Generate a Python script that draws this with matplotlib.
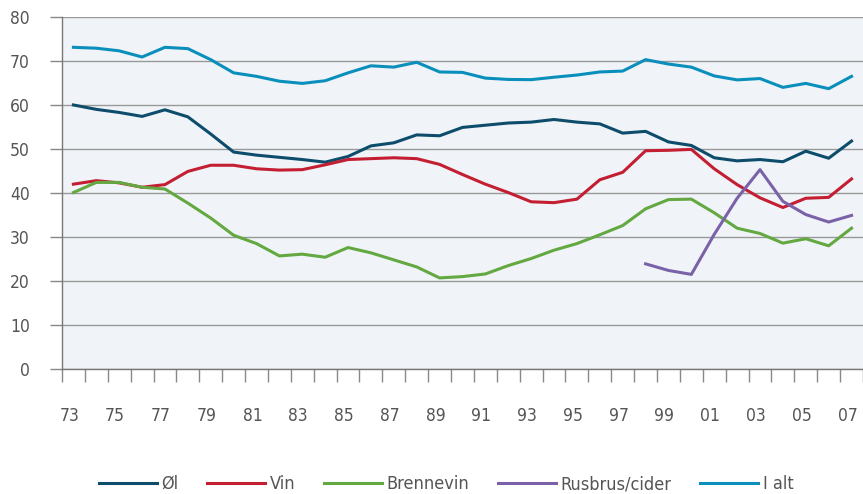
import matplotlib

matplotlib.use("Agg", force=True)
import matplotlib.pyplot as plt
import matplotlib.transforms as mtransforms
import numpy as np

years = list(range(1973, 2008))

ol = [60.0, 59.0, 58.3, 57.4, 58.9, 57.3, 53.4, 49.3, 48.6, 48.1, 47.6,
      47.0, 48.3, 50.7, 51.4, 53.2, 53.0, 54.9, 55.4, 55.9, 56.1, 56.7, 56.1,
      55.7, 53.6, 54.0, 51.6, 50.8, 48.0, 47.3, 47.6, 47.1, 49.5, 47.9, 51.8]
vin = [42.0, 42.8, 42.3, 41.3, 41.9, 44.9, 46.3, 46.3, 45.5, 45.2, 45.3,
       46.4, 47.6, 47.8, 48.0, 47.8, 46.5, 44.2, 42.0, 40.1, 38.0, 37.8, 38.6,
       43.0, 44.7, 49.6, 49.7, 49.9, 45.5, 41.9, 38.9, 36.7, 38.8, 39.0, 43.2]
brennevin = [40.1, 42.4, 42.4, 41.3, 40.9, 37.7, 34.3, 30.4, 28.5, 25.7, 26.1,
             25.4, 27.6, 26.4, 24.8, 23.2, 20.7, 21.0, 21.6, 23.5, 25.1, 27.0, 28.5,
             30.5, 32.6, 36.4, 38.5, 38.6, 35.5, 32.0, 30.8, 28.6, 29.6, 28.0, 32.0]
rusbrus = [None] * 25 + [23.9, 22.4, 21.5, 30.6, 38.8, 45.3, 38.1, 35.1, 33.4, 34.9]
i_alt = [73.1, 72.9, 72.3, 70.9, 73.1, 72.8, 70.3, 67.3, 66.5, 65.4, 64.9,
         65.5, 67.3, 68.9, 68.6, 69.7, 67.5, 67.4, 66.1, 65.8, 65.75, 66.3, 66.8,
         67.5, 67.7, 70.3, 69.3, 68.6, 66.6, 65.7, 66.0, 64.0, 64.9, 63.7, 66.5]

series = [
    ("Øl", ol, "#0d4d6b"),
    ("Vin", vin, "#c41e32"),
    ("Brennevin", brennevin, "#63a840"),
    ("Rusbrus/cider", rusbrus, "#7b62a8"),
    ("I alt", i_alt, "#0a8fbd"),
]

plt.rcParams["font.family"] = ["DejaVu Sans"]
plt.rcParams["font.stretch"] = "condensed"

fig = plt.figure(figsize=(8.63, 4.94), dpi=100)
ax = fig.add_axes([0.0718, 0.253, 0.9282, 0.7127])
ax.set_facecolor("#f0f4f8")

x = np.arange(len(years))
for label, values, color in series:
    y = np.array([np.nan if v is None else v for v in values], dtype=float)
    ax.plot(x, y, color=color, linewidth=2.2, label=label, solid_joinstyle="round")

ax.set_xlim(-0.5, len(years) - 0.5)
ax.set_ylim(0, 80)
ax.set_yticks(range(0, 81, 10))
ax.yaxis.grid(True, color="#999999", linewidth=1.0)
ax.set_axisbelow(True)

label_idx = [i for i, yr in enumerate(years) if yr % 2 == 1]
ax.set_xticks(label_idx)
ax.set_xticklabels([f"{years[i] % 100:02d}" for i in label_idx])
ax.set_xticks(np.arange(-0.5, len(years)), minor=True)
ax.tick_params(axis="x", which="major", length=0, pad=27, labelsize=12.5, labelcolor="#555555")
ax.tick_params(axis="x", which="minor", length=9, color="#888888", width=1)
ax.tick_params(axis="y", length=9, color="#888888", width=1, pad=14, labelsize=12.5, labelcolor="#555555")

# labels in the reference sit a little left of the category centres
shift = mtransforms.ScaledTranslation(-4 / 100, 0, fig.dpi_scale_trans)
for lbl in ax.get_xticklabels():
    lbl.set_transform(lbl.get_transform() + shift)

for side in ["top", "right"]:
    ax.spines[side].set_visible(False)
for side in ["left", "bottom"]:
    ax.spines[side].set_color("#777777")
    ax.spines[side].set_linewidth(1.0)

fig.legend(loc="center", bbox_to_anchor=(0.517, 1 - 484 / 494), ncol=5, frameon=False,
           fontsize=13, handlelength=3.2, handletextpad=0.25, columnspacing=1.6,
           labelcolor="#555555")

fig.savefig("out.png", dpi=100)
